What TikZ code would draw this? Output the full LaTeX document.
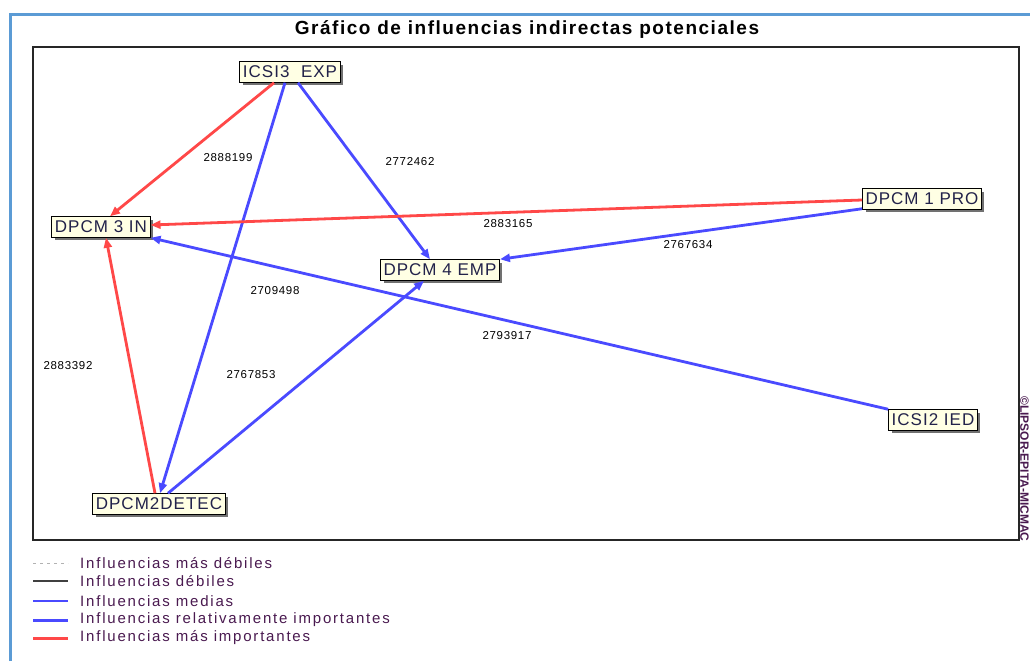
\documentclass[tikz,border=0pt]{standalone}
\usepackage{fontspec}
\setmainfont{Liberation Sans}
\newfontfamily\legfont[LetterSpace=12]{Liberation Sans}
\newfontfamily\boxfont[LetterSpace=6]{Liberation Sans}
\newfontfamily\titfont[LetterSpace=8]{Liberation Sans}
\newfontfamily\labfont[LetterSpace=6]{Liberation Sans}
\usetikzlibrary{arrows.meta,shadows}
\definecolor{framblue}{HTML}{5B9BD5}
\definecolor{cream}{HTML}{FFFFE4}
\definecolor{nodetext}{HTML}{22224A}
\definecolor{legtextc}{HTML}{4A1A50}
\definecolor{redline}{HTML}{FF4848}
\definecolor{blueline}{HTML}{4A4AFF}
\tikzset{
  box/.style={draw=black, line width=1pt, fill=cream, text=nodetext,
    font=\boxfont\fontsize{17}{17}\selectfont, inner xsep=3pt, inner ysep=3.5pt,
    text height=12.5pt, text depth=1pt,
    drop shadow={shadow xshift=3pt, shadow yshift=-3pt, fill=black!65, opacity=0.85}},
  lab/.style={font=\labfont\fontsize{11.5}{11.5}\selectfont, text=black, inner sep=0pt},
  redarr/.style={draw=redline, line width=2.8pt, -{Triangle[length=10pt,width=8pt]}},
  bluearr/.style={draw=blueline, line width=2.8pt, -{Triangle[length=10pt,width=8pt]}},
  legtext/.style={font=\legfont\fontsize{15}{15}\selectfont, text=legtextc, anchor=west, inner sep=0pt},
}
\begin{document}
\begin{tikzpicture}[x=1pt,y=-1pt]
\useasboundingbox (0,0) rectangle (1030,661);
\fill[white] (0,0) rectangle (1030,661);
% frame
\draw[framblue, line width=3pt] (10,661) -- (10,15) -- (1031,15);
\draw[black!85, line width=1.8pt] (33,47) rectangle (1019,540);
% title
\node[font=\titfont\bfseries\fontsize{19}{19}\selectfont, inner sep=0pt] (title) at (527,30) {Gráfico de influencias indirectas potenciales};
% copyright vertical
\node[font=\bfseries\fontsize{12}{12}\selectfont, text=legtextc, rotate=-90, anchor=south west, inner sep=0pt] (copy) at (1020,396) {©LIPSOR-EPITA-MICMAC};
% nodes
\node[box] (i3) at (290,72) {ICSI3\ \ EXP};
\node[box] (d3) at (101,227) {DPCM 3 IN};
\node[box] (d1) at (922,199) {DPCM 1 PRO};
\node[box] (d4) at (440,270) {DPCM 4 EMP};
\node[box] (i2) at (933,420) {ICSI2 IED};
\node[box] (d2) at (159,504) {DPCM2DETEC};
% edges
\draw[redarr] ([xshift=-16pt]i3.south) -- ([xshift=9pt]d3.north);
\draw[bluearr] ([xshift=-5pt]i3.south) -- ([xshift=1pt]d2.north);
\draw[bluearr] ([xshift=8pt]i3.south) -- ([xshift=-10pt]d4.north);
\draw[redarr] ([yshift=-1pt]d1.west) -- ([yshift=2pt]d3.east);
\draw[bluearr] ([yshift=1pt]d1.south west) -- (d4.north east);
\draw[bluearr] (i2.north west) -- (d3.south east);
\draw[redarr] ([xshift=-4pt]d2.north) -- ([xshift=5pt]d3.south);
\draw[bluearr] ([xshift=9pt]d2.north) -- ([xshift=-16pt]d4.south);
% labels
\node[lab] (a1) at (228,158) {2888199};
\node[lab] (a2) at (410,162) {2772462};
\node[lab] (a3) at (508,224) {2883165};
\node[lab] (a4) at (688,245) {2767634};
\node[lab] (a5) at (275,291) {2709498};
\node[lab] (a6) at (507,336) {2793917};
\node[lab] (a7) at (68,366) {2883392};
\node[lab] (a8) at (251,375) {2767853};
% legend
\coordinate (l1a) at (33,563); \coordinate (l1b) at (68,563);
\coordinate (l2a) at (33,581); \coordinate (l2b) at (68,581);
\coordinate (l3a) at (33,601); \coordinate (l3b) at (68,601);
\coordinate (l4a) at (33,620); \coordinate (l4b) at (68,620);
\coordinate (l5a) at (33,638); \coordinate (l5b) at (68,638);
\draw[black!30, line width=0.8pt, dash pattern=on 3pt off 4pt] (l1a) -- (l1b);
\draw[black!75, line width=1.1pt] (l2a) -- (l2b);
\draw[blueline, line width=1.3pt] (l3a) -- (l3b);
\draw[blueline, line width=3pt] (l4a) -- (l4b);
\draw[redline, line width=3pt] (l5a) -- (l5b);
\node[legtext] (t1) at (80,563) {Influencias más débiles};
\node[legtext] (t2) at (80,581) {Influencias débiles};
\node[legtext] (t3) at (80,601) {Influencias medias};
\node[legtext] (t4) at (80,620) {Influencias relativamente importantes};
\node[legtext] (t5) at (80,638) {Influencias más importantes};
\end{tikzpicture}
\end{document}
